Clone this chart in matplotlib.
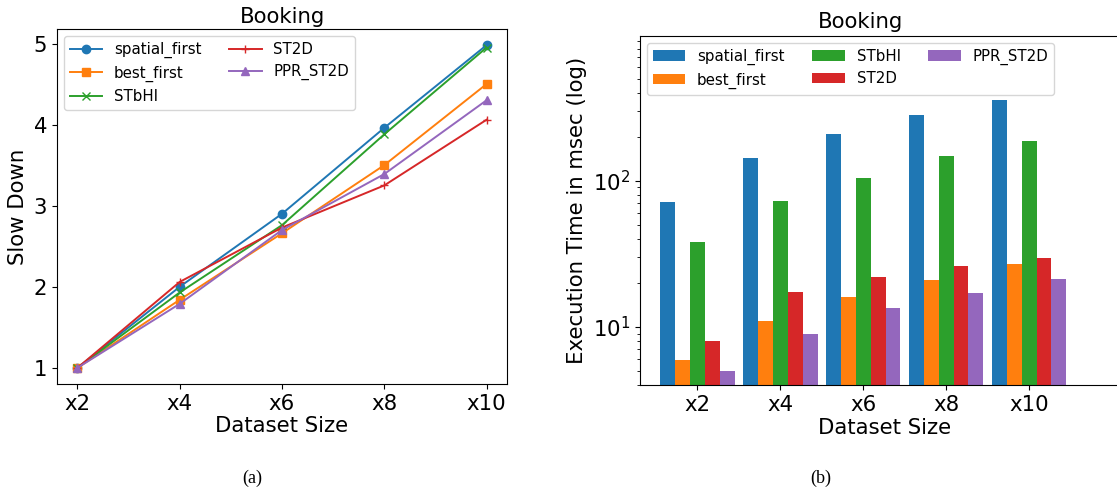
import matplotlib
matplotlib.use("Agg")
import matplotlib.pyplot as plt
import numpy as np

sizes = ["x2", "x4", "x6", "x8", "x10"]
methods = ["spatial_first", "best_first", "STbHI", "ST2D", "PPR_ST2D"]
markers = ["o", "s", "x", "+", "^"]
colors = ["#1f77b4", "#ff7f0e", "#2ca02c", "#d62728", "#9467bd"]

slowdown_spatial_first = [1.0, 2.0, 2.9, 3.96, 4.98]
slowdown_best_first = [1.0, 1.84, 2.66, 3.5, 4.5]
slowdown_stbhi = [1.0, 1.93, 2.76, 3.88, 4.95]
slowdown_st2d = [1.0, 2.06, 2.73, 3.25, 4.06]
slowdown_ppr_st2d = [1.0, 1.79, 2.7, 3.39, 4.3]

time_spatial_first = [72, 144, 210, 283, 359]
time_best_first = [5.95, 11.0, 16.0, 21.0, 27.0]
time_stbhi = [38, 73, 105, 148, 188]
time_st2d = [8.0, 17.4, 22.0, 26.2, 29.7]
time_ppr_st2d = [5.0, 9.0, 13.5, 17.1, 21.3]

slowdowns = [slowdown_spatial_first, slowdown_best_first, slowdown_stbhi,
             slowdown_st2d, slowdown_ppr_st2d]
times = [time_spatial_first, time_best_first, time_stbhi, time_st2d, time_ppr_st2d]

W, H = 1117, 493
fig = plt.figure(figsize=(W / 100, H / 100), dpi=100)

FS = 15.3
LFS = 10.8
# Left plot
ax1 = fig.add_axes([57 / W, 1 - 384 / H, 450 / W, 355 / H])
x = np.arange(len(sizes))
for vals, m, c, lab in zip(slowdowns, markers, colors, methods):
    ax1.plot(x, vals, marker=m, color=c, label=lab, linewidth=1.4, markersize=6)
ax1.set_xticks(x)
ax1.set_xticklabels(sizes)
ax1.set_yticks([1, 2, 3, 4, 5])
ax1.tick_params(labelsize=FS)
ax1.set_xlabel("Dataset Size", fontsize=FS, labelpad=2)
ax1.set_ylabel("Slow Down", fontsize=FS)
ax1.set_title("Booking", fontsize=FS, pad=4.5)
ax1.legend(ncol=2, loc="upper left", fontsize=LFS, handlelength=2.15,
           columnspacing=1.85, borderaxespad=0.45)

# Right plot
ax2 = fig.add_axes([640 / W, 1 - 385 / H, (1130 - 640) / W, 349 / H])
bw = 0.18
offsets = [-0.36, -0.18, 0.0, 0.18, 0.36]
for vals, off, c, lab in zip(times, offsets, colors, methods):
    ax2.bar(x + off, vals, width=bw, color=c, label=lab)
ax2.set_yscale("log")
ax2.set_ylim(4.0, 980)
ax2.set_xlim(-0.69, (1130 - 697) / 83.0)
ax2.set_xticks(x)
ax2.set_xticklabels(sizes)
ax2.tick_params(labelsize=FS)
ax2.spines["right"].set_visible(False)
ax2.set_xlabel("Dataset Size", fontsize=FS, labelpad=2)
ax2.set_ylabel("Execution Time in msec (log)", fontsize=FS)
ax2.set_title("Booking", fontsize=FS, pad=5.5, x=(861 - 640) / (1130 - 640))
ax2.legend(ncol=3, loc="upper left", fontsize=LFS, handlelength=2.15,
           columnspacing=1.85, borderaxespad=0.45)

fig.text(252 / W, 1 - 478 / H, "(a)", ha="center", va="center",
         fontsize=13, family="Liberation Serif")
fig.text(821 / W, 1 - 478 / H, "(b)", ha="center", va="center",
         fontsize=13, family="Liberation Serif")

fig.savefig("out.png", dpi=100)
